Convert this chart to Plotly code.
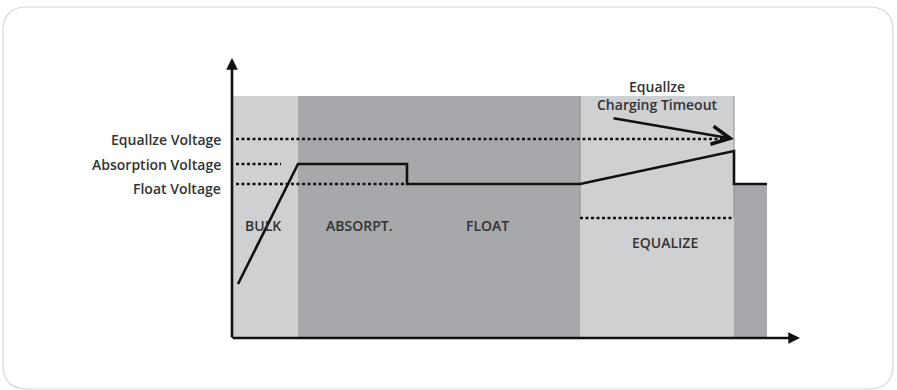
import plotly.graph_objects as go

# time axis and voltage axis in arbitrary units, origin at the axes corner
band_start = [0.0, 6.6, 34.8, 50.2]
band_end = [6.6, 34.8, 50.2, 53.5]
band_top = [24.2, 24.2, 24.2, 15.4]
band_color = ["#cfd0d2", "#a7a8ab", "#cfd0d2", "#a7a8ab"]

phase_labels = ["BULK", "ABSORPT.", "FLOAT", "EQUALIZE"]
phase_label_t = [3.1, 12.7, 25.5, 43.3]
phase_label_v = [11.3, 11.3, 11.3, 9.6]

# charging voltage profile
charge_t = [0.6, 6.6, 17.5, 17.5, 34.8, 50.2, 50.2, 53.5]
charge_v = [5.4, 17.4, 17.4, 15.4, 15.4, 18.7, 15.4, 15.4]

# reference voltage levels (dotted guides)
level_names = ["Equallze Voltage", "Absorption Voltage", "Float Voltage"]
level_v = [19.9, 17.4, 15.4]
level_end = [49.8, 4.9, 17.3]
level_label_shift = [0, 0, -4]

equalize_floor_v = 12.0
equalize_span = [34.8, 50.2]

timeout_text = "Equallze<br>Charging Timeout"
timeout_label = (42.5, 24.3)
timeout_tail = (38.0, 22.0)
timeout_head = (50.2, 19.9)

axis_t_end = 56.8
axis_v_end = 28.0

W, H = 897, 390
ink = "#333333"
font = dict(family="Open Sans", size=14, color=ink, weight=600)

fig = go.Figure()

shapes = []
for x0, x1, top, col in zip(band_start, band_end, band_top, band_color):
    shapes.append(dict(type="rect", xref="x", yref="y", x0=x0, x1=x1, y0=0, y1=top,
                       fillcolor=col, line_width=0, layer="below"))
# thin outline of the equalize window
for xe in equalize_span:
    shapes.append(dict(type="line", xref="x", yref="y", x0=xe, x1=xe, y0=equalize_floor_v,
                       y1=band_top[2], line=dict(color="#8c8d90", width=1), layer="below"))

# outer rounded frame
r = 24
x0p, x1p, y0p, y1p = 3, 893, 7, 389
def px(x):
    return x / W
def py(y):
    return 1 - y / H
path = (f"M {px(x0p + r)},{py(y0p)} L {px(x1p - r)},{py(y0p)} "
        f"Q {px(x1p)},{py(y0p)} {px(x1p)},{py(y0p + r)} "
        f"L {px(x1p)},{py(y1p - r)} Q {px(x1p)},{py(y1p)} {px(x1p - r)},{py(y1p)} "
        f"L {px(x0p + r)},{py(y1p)} Q {px(x0p)},{py(y1p)} {px(x0p)},{py(y1p - r)} "
        f"L {px(x0p)},{py(y0p + r)} Q {px(x0p)},{py(y0p)} {px(x0p + r)},{py(y0p)} Z")
shapes.append(dict(type="path", xref="paper", yref="paper", path=path,
                   line=dict(color="#d6d6d6", width=1.2), layer="below"))

# dotted guide lines
for v, end in zip(level_v, level_end):
    fig.add_trace(go.Scatter(x=[0.4, end], y=[v, v], mode="lines",
                             line=dict(color="#111111", width=2.6, dash="3px,2.5px"),
                             hoverinfo="skip", showlegend=False))
fig.add_trace(go.Scatter(x=equalize_span, y=[equalize_floor_v] * 2, mode="lines",
                         line=dict(color="#111111", width=2.6, dash="3px,2.5px"),
                         hoverinfo="skip", showlegend=False))

# charge curve
fig.add_trace(go.Scatter(x=charge_t, y=charge_v, mode="lines",
                         line=dict(color="#111111", width=2.6),
                         hoverinfo="skip", showlegend=False))

annotations = []
# axes with arrow heads
annotations.append(dict(x=0, y=axis_v_end, ax=0, ay=-0.1, xref="x", yref="y", axref="x", ayref="y",
                        text="", showarrow=True, arrowhead=2, arrowsize=0.9, arrowwidth=2.6,
                        arrowcolor="#111111", standoff=0))
annotations.append(dict(x=axis_t_end, y=0, ax=-0.1, ay=0, xref="x", yref="y", axref="x", ayref="y",
                        text="", showarrow=True, arrowhead=2, arrowsize=0.9, arrowwidth=2.6,
                        arrowcolor="#111111", standoff=0))
# timeout arrow
annotations.append(dict(x=timeout_head[0], y=timeout_head[1], ax=timeout_tail[0], ay=timeout_tail[1],
                        xref="x", yref="y", axref="x", ayref="y", text="", showarrow=True,
                        arrowhead=5, arrowsize=1.5, arrowwidth=2.4, arrowcolor="#111111", standoff=0))
annotations.append(dict(x=timeout_label[0], y=timeout_label[1], xref="x", yref="y", text=timeout_text,
                        showarrow=False, font=font, align="center"))

for name, v, shift in zip(level_names, level_v, level_label_shift):
    annotations.append(dict(x=-0.9, y=v, xref="x", yref="y", text=name, showarrow=False,
                            xanchor="right", yshift=shift, font=font))
for name, t, v in zip(phase_labels, phase_label_t, phase_label_v):
    annotations.append(dict(x=t, y=v, xref="x", yref="y", text=name, showarrow=False, font=font))

fig.update_layout(
    width=W, height=H,
    margin=dict(l=0, r=0, t=0, b=0),
    paper_bgcolor="white", plot_bgcolor="white",
    xaxis=dict(range=[-23.2, 66.5], visible=False, fixedrange=True),
    yaxis=dict(range=[-5.2, 33.8], visible=False, fixedrange=True),
    shapes=shapes, annotations=annotations, showlegend=False,
)

# the page body has a default margin; drop it so the figure fills the window
fig.write_html("out.html", config={"displayModeBar": False},
               post_script="document.body.style.margin='0';")
